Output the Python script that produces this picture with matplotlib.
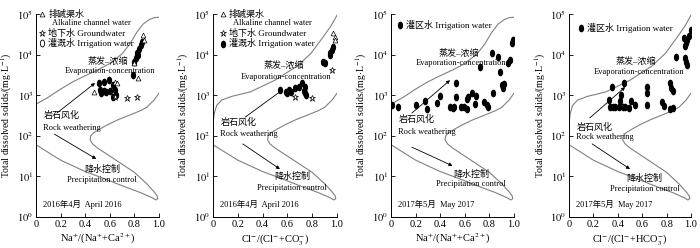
import numpy as np
import matplotlib
matplotlib.use("Agg")
import matplotlib.pyplot as plt
from matplotlib.path import Path
import matplotlib.transforms as mtransforms

plt.rcParams['font.family'] = ['Liberation Serif', 'Noto Sans CJK SC']
plt.rcParams['mathtext.fontset'] = 'stix'

# ---- Gibbs boundaries (x, log10 TDS) ----
cat_upper_x = [0.0, 0.1, 0.2, 0.3, 0.4, 0.5, 0.6, 0.7, 0.76, 0.82, 0.87, 0.92, 0.96, 1.0]
cat_upper_log = [2.78, 2.95, 3.15, 3.33, 3.48, 3.62, 3.78, 4.02, 4.25, 4.55, 4.75, 4.86, 4.91, 4.92]

an_upper_x = [0.0, 0.01, 0.03, 0.07, 0.15, 0.3, 0.5, 0.68, 0.79, 0.88, 0.95, 1.0]
an_upper_log = [2.3, 2.55, 2.75, 2.88, 2.97, 3.08, 3.37, 3.72, 4.03, 4.4, 4.7, 4.97]

lower_x = [0.0, 0.2, 0.4, 0.55, 0.7, 0.85, 0.94, 0.975, 0.99, 0.985, 0.96, 0.9, 0.8, 0.7,
           0.6, 0.5, 0.46, 0.44, 0.445, 0.47, 0.52, 0.58, 0.67, 0.77, 0.85, 0.9, 0.96, 1.0]
lower_log = [1.78, 1.4, 1.12, 0.95, 0.77, 0.6, 0.48, 0.42, 0.45, 0.52, 0.62, 0.82, 1.1, 1.3,
             1.5, 1.7, 1.8, 1.9, 2.0, 2.08, 2.17, 2.27, 2.4, 2.52, 2.62, 2.7, 2.88, 3.05]

# ---- 2016 April, Na/(Na+Ca) ----
p1_irr_x = [0.51, 0.55, 0.59, 0.52, 0.55, 0.57, 0.53, 0.63, 0.64, 0.65, 0.63, 0.60,
            0.79, 0.80, 0.81, 0.83, 0.84, 0.85, 0.86, 0.82]
p1_irr_log = [3.29, 3.33, 3.37, 3.13, 3.10, 3.07, 3.06, 3.25, 3.12, 3.00, 2.95, 3.10,
              3.50, 3.83, 3.92, 3.99, 4.15, 4.24, 4.32, 4.05]
p1_alk_x = [0.47, 0.64, 0.66, 0.83, 0.87, 0.88, 0.80]
p1_alk_log = [3.09, 3.33, 3.29, 3.42, 4.48, 4.36, 3.79]
p1_gw_x = [0.74, 0.82, 0.64]
p1_gw_log = [2.92, 2.96, 2.96]

# ---- 2016 April, Cl/(Cl+CO3) ----
p2_irr_x = [0.54, 0.59, 0.61, 0.63, 0.60, 0.66, 0.69, 0.73, 0.74, 0.74, 0.72, 0.75,
            0.89, 0.90, 0.94, 0.96, 0.97, 0.94]
p2_irr_log = [3.13, 3.09, 3.13, 3.09, 3.05, 3.17, 3.21, 3.10, 3.06, 3.21, 3.29, 3.00,
              3.83, 3.80, 4.03, 4.11, 4.19, 4.00]
p2_alk_x = [0.97, 0.98, 0.98]
p2_alk_log = [4.52, 4.44, 4.36]
p2_gw_x = [0.66, 0.96, 0.80]
p2_gw_log = [2.96, 3.62, 2.92]

# ---- 2017 May, Na/(Na+Ca) ----
p3_irr_x = [0.01, 0.06, 0.20, 0.28, 0.29, 0.37, 0.40, 0.48, 0.50, 0.51, 0.53, 0.53,
            0.57, 0.59, 0.62, 0.63, 0.62, 0.66, 0.68, 0.69, 0.72, 0.82, 0.87, 0.89,
            0.76, 0.78, 0.79, 0.83, 0.90, 0.91, 0.92, 0.95, 0.97, 0.98, 0.99]
p3_irr_log = [2.76, 2.70, 2.76, 2.86, 2.65, 2.80, 2.98, 2.70, 2.68, 2.72, 3.29, 2.96,
              2.72, 2.70, 2.90, 2.95, 2.67, 3.05, 2.78, 2.98, 3.70, 4.05, 3.95, 3.58,
              2.84, 2.76, 2.72, 3.05, 3.24, 3.18, 3.28, 3.79, 3.87, 4.28, 4.36]

# ---- 2017 May, Cl/(Cl+HCO3) ----
p4_irr_x = [0.34, 0.36, 0.38, 0.41, 0.44, 0.46, 0.49, 0.33, 0.35, 0.43, 0.45, 0.42,
            0.54, 0.51, 0.64, 0.64, 0.64, 0.76, 0.78, 0.83, 0.84, 0.85, 0.83, 0.85,
            0.88, 0.94, 0.96, 0.95, 0.97, 0.98, 0.95, 0.96, 0.97, 1.0]
p4_irr_log = [2.72, 2.70, 2.72, 2.70, 2.70, 2.72, 2.68, 2.88, 3.21, 3.00, 3.29, 2.85,
              2.76, 2.85, 3.05, 3.21, 2.76, 2.84, 2.74, 3.29, 3.17, 3.10, 2.65, 2.68,
              3.95, 4.40, 4.28, 4.20, 4.35, 4.45, 3.91, 3.83, 3.75, 4.60]

xlabels = [r'Na$^{+}$/(Na$^{+}$+Ca$^{2+}$)', r'Cl$^{-}$/(Cl$^{-}$+CO$_3^{-}$)',
           r'Na$^{+}$/(Na$^{+}$+Ca$^{2+}$)', r'Cl$^{-}$/(Cl$^{-}$+HCO$_3^{-}$)']
dates = ['2016年4月  April 2016', '2016年4月  April 2016',
         '2017年5月  May 2017', '2017年5月  May 2017']

ell = Path.unit_circle().transformed(mtransforms.Affine2D().scale(0.62, 1.0))
GRAY = '#808080'
CN = 6.5
EN = 6


def tds(logs):
    return 10 ** np.asarray(logs)


fig = plt.figure(figsize=(7.0, 2.48), dpi=100)
lefts = [36, 213, 391, 569]
widths = [123, 124, 123, 122]
axes = []
for l, w in zip(lefts, widths):
    axes.append(fig.add_axes([l / 700, 1 - 217 / 248, w / 700, 203 / 248]))

# per panel text spots: (rock cn y, rock en y), (precip x, cn y, en y), (evap x, cn y, en y)
rock_pos = [(2.5, 2.2), (2.34, 2.04), (2.4, 2.1), (2.22, 1.97)]
precip_pos = [(0.54, 1.18, 0.9), (0.64, 0.99, 0.71), (0.65, 1.06, 0.81), (0.62, 0.96, 0.69)]
evap_pos = [(0.58, 3.84, 3.6), (0.57, 3.72, 3.46), (0.55, 4.03, 3.79), (0.55, 3.84, 3.58)]

for i, ax in enumerate(axes):
    ax.set_yscale('log')
    ax.set_xlim(0, 1.0)
    ax.set_ylim(1, 1e5)
    if i % 2 == 0:
        ax.plot(cat_upper_x, tds(cat_upper_log), color=GRAY, lw=0.8)
    else:
        ax.plot(an_upper_x, tds(an_upper_log), color=GRAY, lw=0.8)
    ax.plot(lower_x, tds(lower_log), color=GRAY, lw=0.8)

    for s in ['top', 'right']:
        ax.spines[s].set_visible(False)
    for s in ['left', 'bottom']:
        ax.spines[s].set_linewidth(0.7)
    ax.set_xticks([0, 0.2, 0.4, 0.6, 0.8, 1.0])
    ax.set_xticklabels(['0', '0.2', '0.4', '0.6', '0.8', '1.0'])
    ax.set_yticks([1, 10, 100, 1e3, 1e4, 1e5])
    ax.set_yticklabels([r'$10^{%d}$' % k for k in range(6)])
    ax.yaxis.set_minor_locator(matplotlib.ticker.NullLocator())
    ax.tick_params(direction='in', length=3, width=0.6, labelsize=7.5, pad=2)
    ax.set_xlabel(xlabels[i], fontsize=7.5, labelpad=2)
    ax.set_ylabel(r'Total dissolved solids/(mg$\cdot$L$^{-1}$)', fontsize=7)
    ax.yaxis.set_label_coords(-0.175, 0.5)

    ax.text(0.06, 10 ** 0.32, dates[i], fontsize=EN, va='center')
    r1, r2 = rock_pos[i]
    ax.text(0.06, 10 ** r1, '岩石风化', fontsize=CN, va='center')
    ax.text(0.06, 10 ** r2, 'Rock weathering', fontsize=EN, va='center')
    px, p1, p2 = precip_pos[i]
    ax.text(px, 10 ** p1, '降水控制', fontsize=CN, va='center', ha='center')
    ax.text(px, 10 ** p2, 'Precipitation control', fontsize=EN, va='center', ha='center')
    ex, e1, e2 = evap_pos[i]
    ax.text(ex, 10 ** e1, '蒸发–浓缩', fontsize=CN, va='center', ha='center')
    ax.text(ex + 0.02, 10 ** e2, 'Evaporation-concentration', fontsize=EN, va='center', ha='center')

# arrows
arrows = [((0.17, 2.56), (0.48, 3.3), (0.15, 2.04), (0.49, 1.43)),
          ((0.26, 2.46), (0.56, 3.13), (0.24, 1.8), (0.54, 1.18)),
          ((0.17, 2.56), (0.48, 3.37), (0.17, 1.72), (0.5, 1.26)),
          ((0.17, 2.44), (0.46, 3.2), (0.19, 1.8), (0.5, 1.18))]
for ax, (s1, t1, s2, t2) in zip(axes, arrows):
    for s, t in [(s1, t1), (s2, t2)]:
        ax.annotate('', xy=(t[0], 10 ** t[1]), xytext=(s[0], 10 ** s[1]),
                    arrowprops=dict(arrowstyle='-|>', color='black', lw=0.6,
                                    mutation_scale=5, shrinkA=0, shrinkB=0))

# data
irr_kw = dict(ls='none', marker=ell, ms=4.5, color='black')
alk_kw = dict(ls='none', marker='^', ms=3.5, mfc='white', mec='black', mew=0.5)
gw_kw = dict(ls='none', marker='*', ms=4.5, mfc='white', mec='black', mew=0.5)

axes[0].plot(p1_irr_x, tds(p1_irr_log), **irr_kw)
axes[0].plot(p1_alk_x, tds(p1_alk_log), **alk_kw)
axes[0].plot(p1_gw_x, tds(p1_gw_log), **gw_kw)
axes[1].plot(p2_irr_x, tds(p2_irr_log), **irr_kw)
axes[1].plot(p2_alk_x, tds(p2_alk_log), **alk_kw)
axes[1].plot(p2_gw_x, tds(p2_gw_log), **gw_kw)
axes[2].plot(p3_irr_x, tds(p3_irr_log), **irr_kw)
axes[3].plot(p4_irr_x, tds(p4_irr_log), **irr_kw)

# legends drawn by hand
for ax, x0, hollow in [(axes[0], 0.05, True), (axes[1], 0.08, False)]:
    ax.plot([x0], [10 ** 5.0], clip_on=False, **alk_kw)
    ax.text(x0 + 0.05, 10 ** 5.0, '排碱渠水', fontsize=CN, va='center')
    ax.text(x0 + 0.08, 10 ** 4.78, 'Alkaline channel water', fontsize=EN, va='center')
    ax.plot([x0], [10 ** 4.53], **gw_kw)
    ax.text(x0 + 0.05, 10 ** 4.53, '地下水 Groundwater', fontsize=CN, va='center')
    if hollow:
        ax.plot([x0], [10 ** 4.29], ls='none', marker=ell, ms=5, mfc='white', mec='black', mew=0.6)
    else:
        ax.plot([x0], [10 ** 4.27], **irr_kw)
    ax.text(x0 + 0.05, 10 ** 4.28, '灌溉水 Irrigation water', fontsize=CN, va='center')

for ax, x0, y0 in [(axes[2], 0.07, 4.73), (axes[3], 0.1, 4.66)]:
    ax.plot([x0], [10 ** y0], **irr_kw)
    ax.text(x0 + 0.05, 10 ** y0, '灌区水 Irrigation water', fontsize=CN, va='center')

fig.savefig('out.png', dpi=100)
